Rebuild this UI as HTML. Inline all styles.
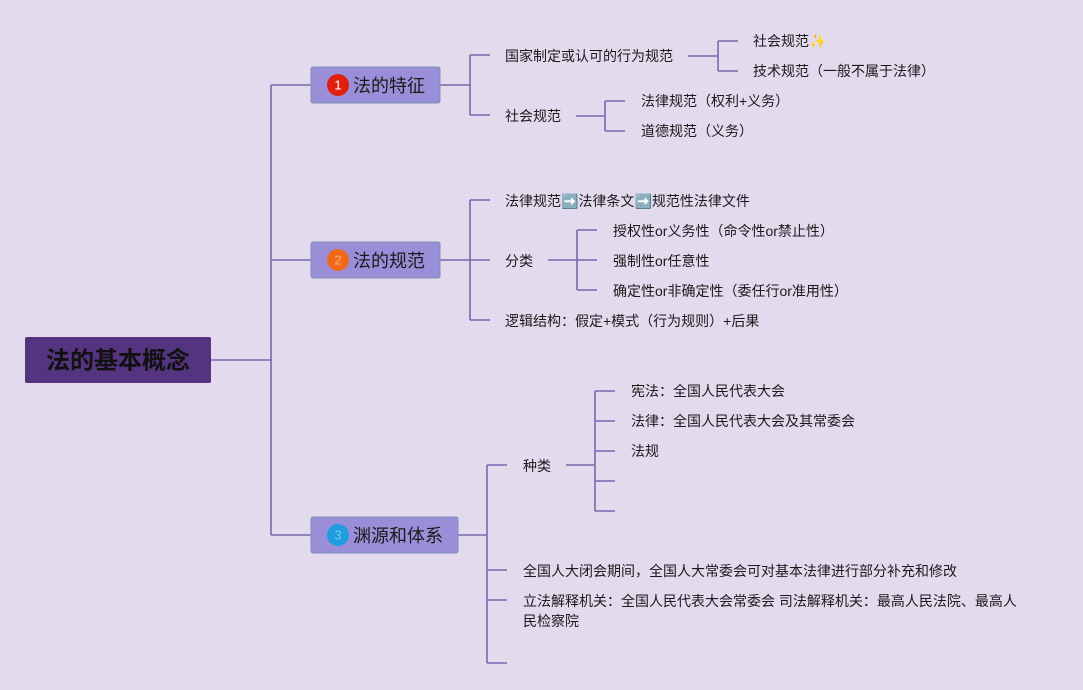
<!DOCTYPE html>
<html><head><meta charset="utf-8"><style>
html,body{margin:0;padding:0;background:#e3daee;}
svg{display:block}
text{font-family:"Liberation Sans","Noto Sans CJK SC",sans-serif;font-size:14px;fill:#1a1a1a;dominant-baseline:central}
.t{font-size:18px}
</style></head><body>
<svg width="1083" height="690" viewBox="0 0 1083 690" xmlns="http://www.w3.org/2000/svg">
<rect width="1083" height="690" fill="#e3daee"/>
<g fill="none" stroke="#7a68ad" stroke-width="1.6">
<path d="M211 360H271M271 85V535M271 85H311M271 260H311M271 535H311"/>
<path d="M440 85H470M470 55V115M470 55H490M470 115H490"/>
<path d="M688 56H718M718 41V71M718 41H738M718 71H738"/>
<path d="M576 116H605M605 101V131M605 101H625M605 131H625"/>
<path d="M440 260H470M470 200V320M470 200H490M470 260H490M470 320H490"/>
<path d="M548 260H577M577 230V290M577 230H597M577 260H597M577 290H597"/>
<path d="M458 535H487M487 465V663M487 465H507M487 570H507M487 600H507M487 663H507"/>
<path d="M566 465H595M595 391V511M595 391H615M595 421H615M595 451H615M595 481H615M595 511H615"/>
</g>
<rect x="25" y="337" width="186" height="46" rx="2" fill="#54337f"/>
<text x="118" y="361" text-anchor="middle" style="font-size:24px;font-weight:bold;fill:#111">法的基本概念</text>
<g>
<rect x="311" y="67" width="129" height="36" rx="2" fill="#9a8ed8" stroke="#7f93b3"/>
<circle cx="338" cy="85" r="11" fill="#e0200f"/><text x="338" y="85" text-anchor="middle" style="fill:#fff;font-size:13px">1</text>
<text class="t" x="353" y="86">法的特征</text>
<rect x="311" y="242" width="129" height="36" rx="2" fill="#9a8ed8" stroke="#7f93b3"/>
<circle cx="338" cy="260" r="11" fill="#ee6a18"/><text x="338" y="260" text-anchor="middle" style="fill:#f3b080;font-size:13px">2</text>
<text class="t" x="353" y="261">法的规范</text>
<rect x="311" y="517" width="147" height="36" rx="2" fill="#9a8ed8" stroke="#7f93b3"/>
<circle cx="338" cy="535" r="11" fill="#1e9ee0"/><text x="338" y="535" text-anchor="middle" style="fill:#7cc6ee;font-size:13px">3</text>
<text class="t" x="353" y="536">渊源和体系</text>
</g>
<text x="505" y="56">国家制定或认可的行为规范</text>
<text x="753" y="41">社会规范<tspan fill="#f2c84b">✨</tspan></text>
<text x="753" y="71">技术规范（一般不属于法律）</text>
<text x="505" y="116">社会规范</text>
<text x="641" y="101">法律规范（权利+义务）</text>
<text x="641" y="131">道德规范（义务）</text>
<text x="505" y="201">法律规范<tspan fill="#3a8fd8">➡️</tspan>法律条文<tspan fill="#3a8fd8">➡️</tspan>规范性法律文件</text>
<text x="505" y="261">分类</text>
<text x="613" y="231">授权性or义务性（命令性or禁止性）</text>
<text x="613" y="261">强制性or任意性</text>
<text x="613" y="291">确定性or非确定性（委任行or准用性）</text>
<text x="505" y="321">逻辑结构：假定+模式（行为规则）+后果</text>
<text x="523" y="466">种类</text>
<text x="631" y="391">宪法：全国人民代表大会</text>
<text x="631" y="421">法律：全国人民代表大会及其常委会</text>
<text x="631" y="451">法规</text>
<text x="523" y="571">全国人大闭会期间，全国人大常委会可对基本法律进行部分补充和修改</text>
<text x="523" y="601">立法解释机关：全国人民代表大会常委会 司法解释机关：最高人民法院、最高人</text>
<text x="523" y="621">民检察院</text>
</svg>
</body></html>
